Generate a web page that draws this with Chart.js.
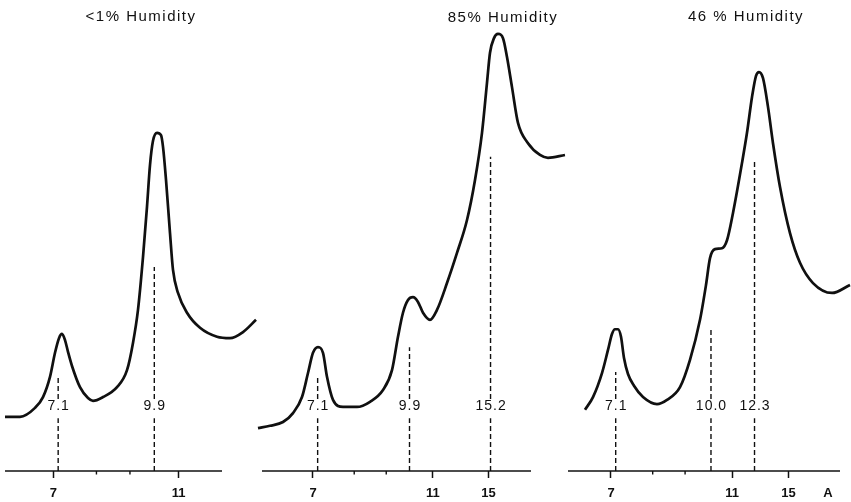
<!DOCTYPE html>
<html><head><meta charset="utf-8">
<script src="https://cdn.jsdelivr.net/npm/chart.js@4.4.1/dist/chart.umd.min.js"></script>
<style>
html,body{margin:0;padding:0;background:#fff;}
#wrap{position:relative;width:851px;height:502px;overflow:hidden;background:#fff;}
canvas{position:absolute;top:0;}
</style></head><body>
<div id="wrap">
<canvas id="c1" width="262" height="502" style="left:0px"></canvas>
<canvas id="c2" width="317" height="502" style="left:255px"></canvas>
<canvas id="c3" width="286" height="502" style="left:565px"></canvas>
</div>
<script>
const WAVELENGTH = 1.5418; // Cu K-alpha, Å

// ---- Panel 1: <1% humidity ----
const dryTitle = '<1% Humidity';
const dryTheta = [14.421, 13.870, 13.318, 13.024, 12.767, 12.583, 12.436, 12.326, 12.215, 12.105, 11.958, 11.664, 11.370, 11.186, 10.818, 10.304, 9.936, 9.716, 9.532, 9.348, 9.201, 9.090, 8.980, 8.833, 8.686, 8.612, 8.502, 8.355, 8.245, 8.061, 7.730, 7.252, 6.627, 6.149, 5.671, 5.193];
const dryIntensity = [11.5, 11.5, 13.4, 15.7, 20.0, 25.1, 28.2, 29.1, 27.8, 25.3, 22.3, 17.8, 15.5, 14.9, 15.7, 17.8, 21.4, 27.2, 34.2, 45.4, 56.1, 65.0, 70.1, 71.8, 71.3, 68.8, 61.8, 50.5, 42.7, 37.8, 33.6, 30.4, 28.5, 28.2, 29.5, 32.1];
const dryPeakD = [7.1, 9.9];
const dryPeakLabels = ['7.1', '9.9'];
const dryPeakTop = [20.0, 43.3];
const dryTickD = [7, 8, 9, 11];
const dryTickLabels = ['7', '', '', '11'];
const dryAxis = [14.421, 6.443];

// ---- Panel 2: 85% humidity ----
const wetTitle = '85% Humidity';
const wetTheta = [14.762, 14.300, 13.800, 13.415, 13.069, 12.838, 12.646, 12.453, 12.261, 12.107, 11.876, 11.491, 10.953, 10.452, 9.952, 9.606, 9.375, 9.183, 8.990, 8.798, 8.606, 8.413, 8.144, 7.875, 7.490, 7.105, 6.720, 6.412, 6.143, 5.951, 5.835, 5.681, 5.528, 5.335, 5.181, 4.989, 4.758, 4.373, 3.912, 3.604, 2.950];
const wetIntensity = [9.1, 9.6, 10.4, 12.3, 15.7, 20.8, 25.1, 26.3, 25.1, 20.0, 15.1, 13.6, 13.6, 14.7, 17.2, 21.4, 28.5, 33.6, 36.3, 36.9, 35.9, 33.6, 32.1, 34.2, 39.9, 46.3, 53.3, 61.8, 71.8, 82.4, 88.8, 91.9, 92.8, 91.9, 87.9, 81.5, 73.9, 69.6, 67.1, 66.5, 67.1];
const wetPeakD = [7.1, 9.9, 15.2];
const wetPeakLabels = ['7.1', '9.9', '15.2'];
const wetPeakTop = [20.0, 26.3, 66.7];
const wetTickD = [7, 8, 9, 11, 15];
const wetTickLabels = ['7', '', '', '11', '15'];
const wetAxis = [14.608, 4.258];

// ---- Panel 3: 46% humidity ----
const midTitle = '46 % Humidity';
const midTheta = [13.635, 13.330, 12.988, 12.760, 12.608, 12.494, 12.379, 12.265, 12.151, 11.999, 11.771, 11.428, 10.896, 10.516, 10.021, 9.641, 9.260, 9.032, 8.880, 8.690, 8.424, 8.233, 8.005, 7.663, 7.473, 7.282, 7.130, 7.016, 6.864, 6.674, 6.484, 6.217, 5.837, 5.457, 4.962, 4.239, 3.555];
const midIntensity = [13.0, 15.7, 20.8, 25.7, 29.1, 30.1, 30.1, 28.5, 24.0, 20.6, 18.1, 15.7, 14.2, 15.1, 17.8, 23.6, 32.1, 39.5, 45.2, 47.1, 47.3, 49.0, 54.8, 65.4, 71.8, 79.4, 83.9, 84.7, 83.4, 77.3, 69.6, 60.3, 50.5, 44.2, 39.9, 37.8, 39.5];
const midPeakD = [7.1, 10.0, 12.3];
const midPeakLabels = ['7.1', '10.0', '12.3'];
const midPeakTop = [21.0, 30.4, 65.6];
const midTickD = [7, 8, 9, 11, 15];
const midTickLabels = ['7', '', '', '11', '15'];
const midAxis = [14.281, 3.935];
const unitLabel = 'A';

const LABEL_LOW = 11.2, LABEL_MID = 13.8, LABEL_HIGH = 15.3, MINOR_TICK = -0.75;
const INK = '#101010';

function twoTheta(d) { return 2 * Math.asin(WAVELENGTH / (2 * d)) * 180 / Math.PI; }

const textPlugin = {
  id: 'panelText',
  afterDatasetsDraw(chart, args, o) {
    const ctx = chart.ctx, xs = chart.scales.x, ys = chart.scales.y;
    ctx.save();
    ctx.fillStyle = INK;
    ctx.textAlign = 'center';
    ctx.textBaseline = 'middle';
    ctx.font = '15px "Liberation Sans", Arial, sans-serif';
    ctx.letterSpacing = '1.5px';
    ctx.fillText(o.title, o.titleX, o.titleY);
    ctx.font = '14px "Liberation Sans", Arial, sans-serif';
    ctx.letterSpacing = '1px';
    o.peakD.forEach((d, i) => {
      ctx.fillText(o.peakLabels[i], xs.getPixelForValue(twoTheta(d)) + 0.5, ys.getPixelForValue(LABEL_MID));
    });
    if (o.unit) {
      ctx.font = 'bold 13px "Liberation Sans", Arial, sans-serif';
      ctx.letterSpacing = '0px';
      ctx.fillText(o.unit, o.unitX, o.unitY);
    }
    ctx.restore();
  }
};

function makePanel(id, p) {
  const curve = p.theta.map((t, i) => ({ x: t, y: p.intensity[i] }));
  const dashes = [];
  p.peakD.forEach((d, i) => {
    const t = twoTheta(d);
    dashes.push({ x: t, y: 0 }, { x: t, y: LABEL_LOW }, { x: t, y: null },
                { x: t, y: LABEL_HIGH }, { x: t, y: p.peakTop[i] }, { x: t, y: null });
  });
  const minor = [];
  p.tickD.forEach((d, i) => {
    if (!p.tickLabels[i]) {
      const t = twoTheta(d);
      minor.push({ x: t, y: 0 }, { x: t, y: MINOR_TICK }, { x: t, y: null });
    }
  });
  const axisLine = [{ x: p.axis[0], y: 0 }, { x: p.axis[1], y: 0 }];

  new Chart(document.getElementById(id), {
    type: 'line',
    data: {
      datasets: [
        { data: curve, borderColor: INK, borderWidth: 2.7, pointRadius: 0, cubicInterpolationMode: 'monotone', clip: false, fill: false },
        { data: dashes, borderColor: INK, borderWidth: 1.4, borderDash: [5, 3], pointRadius: 0, tension: 0, clip: false, spanGaps: false },
        { data: minor, borderColor: INK, borderWidth: 1.4, pointRadius: 0, tension: 0, clip: false, spanGaps: false },
        { data: axisLine, borderColor: INK, borderWidth: 1.6, pointRadius: 0, tension: 0, clip: false }
      ]
    },
    options: {
      responsive: false,
      animation: false,
      devicePixelRatio: 1,
      layout: { padding: 0 },
      plugins: {
        legend: { display: false },
        tooltip: { enabled: false },
        title: { display: false },
        panelText: {
          title: p.title, titleX: p.titleX, titleY: p.titleY,
          peakD: p.peakD, peakLabels: p.peakLabels,
          unit: p.unit, unitX: p.unitX, unitY: 493
        }
      },
      scales: {
        x: {
          type: 'linear',
          reverse: true,
          min: p.xMin, max: p.xMax,
          afterBuildTicks: (scale) => { scale.ticks = p.tickD.map(d => ({ value: twoTheta(d) })); },
          afterFit: (scale) => { scale.height = 31; },
          border: { display: false },
          grid: {
            drawOnChartArea: false, drawTicks: true, tickLength: 7, tickWidth: 1.5,
            tickColor: (c) => (p.tickLabels[c.index] ? INK : 'rgba(0,0,0,0)')
          },
          ticks: {
            autoSkip: false, maxRotation: 0, padding: 8, color: INK,
            font: { family: '"Liberation Sans", Arial, sans-serif', size: 13, weight: 'bold' },
            callback: (v, i) => p.tickLabels[i]
          }
        },
        y: { display: false, min: 0, max: 100 }
      }
    },
    plugins: [textPlugin]
  });
}

makePanel('c1', { title: dryTitle, titleX: 141, titleY: 17, theta: dryTheta, intensity: dryIntensity,
  peakD: dryPeakD, peakLabels: dryPeakLabels, peakTop: dryPeakTop, tickD: dryTickD, tickLabels: dryTickLabels,
  axis: dryAxis, xMin: 4.973, xMax: 14.605 });
makePanel('c2', { title: wetTitle, titleX: 248, titleY: 18, theta: wetTheta, intensity: wetIntensity,
  peakD: wetPeakD, peakLabels: wetPeakLabels, peakTop: wetPeakTop, tickD: wetTickD, tickLabels: wetTickLabels,
  axis: wetAxis, xMin: 2.680, xMax: 14.877 });
makePanel('c3', { title: midTitle, titleX: 181, titleY: 17, theta: midTheta, intensity: midIntensity,
  peakD: midPeakD, peakLabels: midPeakLabels, peakTop: midPeakTop, tickD: midTickD, tickLabels: midTickLabels,
  axis: midAxis, xMin: 3.517, xMax: 14.395, unit: unitLabel, unitX: 263 });
</script>
</body></html>
